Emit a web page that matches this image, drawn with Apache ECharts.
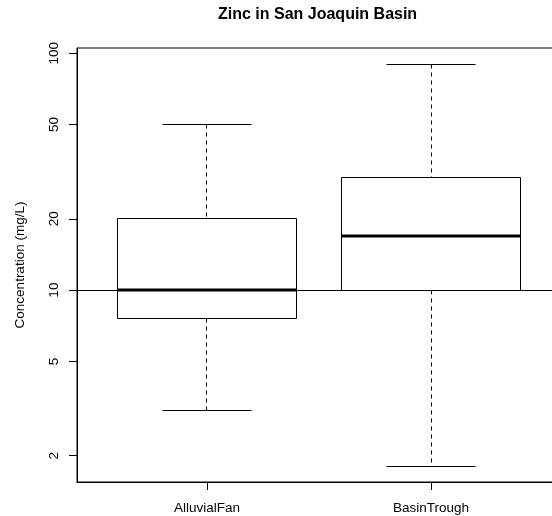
<!DOCTYPE html>
<html>
<head>
<meta charset="utf-8">
<script src="https://cdn.jsdelivr.net/npm/echarts@6/dist/echarts.min.js"></script>
<style>html,body{margin:0;padding:0;background:#fff;}#c{width:552px;height:516px;}</style>
</head>
<body>
<div id="c"></div>
<script>
var categories = ['AlluvialFan', 'BasinTrough'];
var lowWhisker = [3.1, 1.8];
var lowerQuartile = [7.6, 10];
var medianValue = [10, 17];
var upperQuartile = [20, 30];
var highWhisker = [50, 90];
var yTickValues = [2, 5, 10, 20, 50, 100];
var xTickValues = [1, 2];
var referenceLevel = 10;

var FONT = '"Liberation Sans", Arial, Helvetica, sans-serif';
var boxData = categories.map(function (c, i) {
  return [i + 1, lowWhisker[i], lowerQuartile[i], medianValue[i], upperQuartile[i], highWhisker[i]];
});

function crisp(v) { return Math.round(v - 0.5) + 0.5; }

var chart = echarts.init(document.getElementById('c'), null, {renderer: 'canvas'});
chart.setOption({
  animation: false,
  backgroundColor: '#fff',
  title: {
    text: 'Zinc in San Joaquin Basin',
    left: 218, top: 7, padding: 0,
    textStyle: {fontFamily: FONT, fontSize: 16, fontWeight: 'bold', color: '#000'}
  },
  grid: {left: 77, top: 48, width: 484, height: 434, outerBoundsMode: 'none', containLabel: false,
    show: true, borderColor: '#000', borderWidth: 1, backgroundColor: 'transparent'},
  xAxis: {
    type: 'value', min: 0.42, max: 2.58,
    axisLine: {show: true, onZero: false, lineStyle: {color: '#000', width: 1}},
    axisTick: {show: true, length: 8, customValues: xTickValues, lineStyle: {color: '#000'}},
    axisLabel: {
      show: true, margin: 19, customValues: xTickValues,
      fontFamily: FONT, fontSize: 13.5, color: '#000',
      formatter: function (v) { return categories[Math.round(v) - 1] || ''; }
    },
    splitLine: {show: false}
  },
  yAxis: {
    type: 'log', logBase: 10, min: 1.549, max: 105.2,
    name: 'Concentration (mg/L)', nameLocation: 'middle', nameGap: 50, nameRotate: 90,
    nameTextStyle: {fontFamily: FONT, fontSize: 13.5, color: '#000'},
    axisLine: {show: true, lineStyle: {color: '#000', width: 1}},
    axisTick: {show: true, length: 8, customValues: yTickValues, lineStyle: {color: '#000'}},
    axisLabel: {
      show: true, margin: 16, rotate: 90, customValues: yTickValues,
      fontFamily: FONT, fontSize: 13.5, color: '#000',
      formatter: function (v) { return String(Math.round(v)); }
    },
    splitLine: {show: false}, minorTick: {show: false}
  },
  series: [{
    type: 'custom',
    data: boxData,
    encode: {x: 0, y: [1, 2, 3, 4, 5]},
    clip: false,
    renderItem: function (params, api) {
      var x = api.value(0);
      var lo = api.coord([x, api.value(1)]);
      var b1 = api.coord([x, api.value(2)]);
      var md = api.coord([x, api.value(3)]);
      var b3 = api.coord([x, api.value(4)]);
      var hi = api.coord([x, api.value(5)]);
      var hb = api.coord([x + 0.4, api.value(3)])[0] - md[0];
      var hc = hb / 2;
      var cx = crisp(md[0]);
      var yLo = crisp(lo[1]), yB1 = crisp(b1[1]), yB3 = crisp(b3[1]), yHi = crisp(hi[1]);
      var xL = crisp(md[0] - hb), xR = crisp(md[0] + hb);
      var dash = {stroke: '#000', lineWidth: 1, lineDash: [4, 4], fill: null};
      var solid = {stroke: '#000', lineWidth: 1, fill: null};
      return {
        type: 'group',
        children: [
          {type: 'line', shape: {x1: cx, y1: yHi, x2: cx, y2: yB3}, style: dash},
          {type: 'line', shape: {x1: cx, y1: yB1, x2: cx, y2: yLo}, style: dash},
          {type: 'line', shape: {x1: crisp(md[0] - hc), y1: yHi, x2: crisp(md[0] + hc), y2: yHi}, style: solid},
          {type: 'line', shape: {x1: crisp(md[0] - hc), y1: yLo, x2: crisp(md[0] + hc), y2: yLo}, style: solid},
          {type: 'rect', shape: {x: xL, y: yB3, width: xR - xL, height: yB1 - yB3}, style: {fill: '#fff', stroke: '#000', lineWidth: 1}},
          {type: 'line', shape: {x1: xL, y1: Math.round(md[1]), x2: xR, y2: Math.round(md[1])}, style: {stroke: '#000', lineWidth: 3}}
        ]
      };
    },
    markLine: {
      silent: true, symbol: 'none', animation: false,
      label: {show: false},
      lineStyle: {color: '#000', width: 1, type: 'solid'},
      data: [{yAxis: referenceLevel}]
    }
  }]
});
</script>
</body>
</html>
